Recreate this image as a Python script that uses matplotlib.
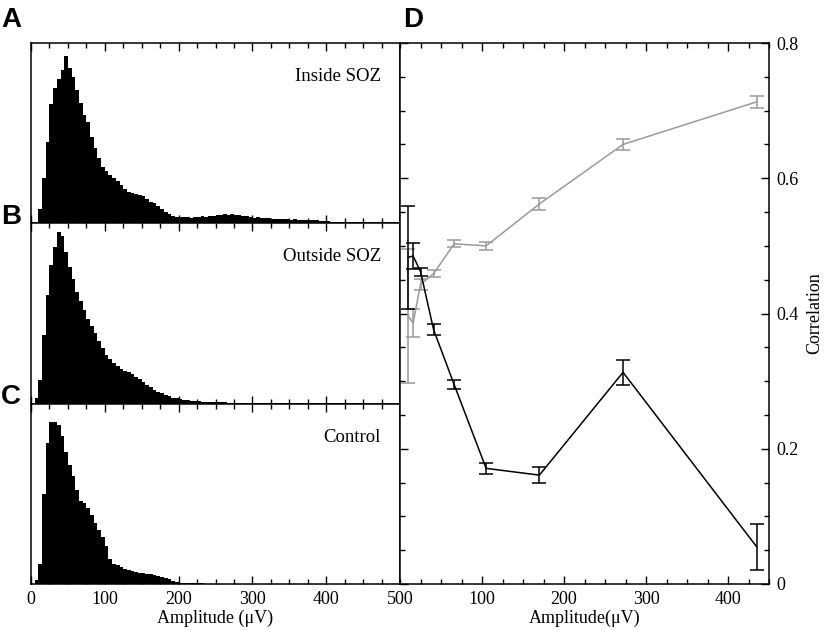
import numpy as np
import matplotlib
matplotlib.use("Agg")
import matplotlib.pyplot as plt
from matplotlib.ticker import MultipleLocator

plt.rcParams['font.family'] = ['Liberation Serif', 'DejaVu Serif']

# histogram heights (fraction of panel height), 5 uV bins from 0 to 500
bin_edges = np.arange(0, 505, 5)

inside_soz = [
    0, 0, 0.08, 0.25, 0.45, 0.66, 0.75, 0.80, 0.85, 0.93,
    0.86, 0.81, 0.74, 0.67, 0.60, 0.56, 0.48, 0.42, 0.36, 0.31,
    0.29, 0.27, 0.25, 0.235, 0.215, 0.19, 0.175, 0.17, 0.16, 0.155,
    0.15, 0.135, 0.12, 0.11, 0.095, 0.08, 0.065, 0.05, 0.04, 0.036,
    0.037, 0.033, 0.036, 0.032, 0.035, 0.037, 0.039, 0.036, 0.042, 0.04,
    0.045, 0.047, 0.05, 0.046, 0.049, 0.044, 0.046, 0.041, 0.04, 0.035,
    0.032, 0.034, 0.029, 0.031, 0.027, 0.026, 0.024, 0.025, 0.022, 0.023,
    0.021, 0.022, 0.02, 0.021, 0.019, 0.02, 0.021, 0.018, 0.015, 0.013,
    0.011, 0.01, 0.009, 0.008, 0.008, 0.007, 0.006, 0.006, 0.005, 0.005,
    0.005, 0.004, 0.004, 0.004, 0.003, 0.004, 0.003, 0.003, 0.002, 0.002,
]

outside_soz = [
    0, 0.03, 0.13, 0.38, 0.60, 0.77, 0.87, 0.95, 0.93, 0.84,
    0.76, 0.69, 0.62, 0.57, 0.52, 0.47, 0.43, 0.39, 0.35, 0.31,
    0.27, 0.245, 0.225, 0.21, 0.195, 0.18, 0.175, 0.165, 0.15, 0.135,
    0.12, 0.105, 0.09, 0.078, 0.067, 0.057, 0.048, 0.04, 0.034, 0.029,
    0.025, 0.022, 0.019, 0.017, 0.015, 0.013, 0.012, 0.011, 0.01, 0.009,
    0.008, 0.007, 0.007, 0.006, 0.006, 0.005, 0.005, 0.005, 0.004, 0.004,
    0.004, 0.003, 0.003, 0.003, 0.003, 0.003, 0.002, 0.002, 0.002, 0.002,
    0.002, 0.002, 0.002, 0.002, 0.001, 0.001, 0.001, 0.001, 0.001, 0.001,
    0.001, 0.001, 0.001, 0.001, 0.001, 0.001, 0.001, 0.001, 0.001, 0.001,
    0.001, 0.001, 0, 0, 0, 0, 0, 0, 0, 0,
]

control = [
    0, 0.02, 0.11, 0.50, 0.78, 0.90, 0.90, 0.88, 0.82, 0.73,
    0.66, 0.60, 0.52, 0.46, 0.45, 0.42, 0.38, 0.34, 0.30, 0.26,
    0.21, 0.14, 0.11, 0.105, 0.095, 0.085, 0.075, 0.072, 0.067, 0.063,
    0.06, 0.057, 0.054, 0.048, 0.044, 0.04, 0.035, 0.025, 0.015, 0.011,
    0.008, 0.006, 0.005, 0.004, 0.004, 0.003, 0.003, 0.002, 0.002, 0.002,
    0.002, 0.001, 0.001, 0.001, 0.001, 0.001, 0.001, 0.001, 0.001, 0.001,
    0, 0, 0, 0, 0, 0, 0, 0, 0, 0,
    0, 0, 0, 0, 0, 0, 0, 0, 0, 0,
    0, 0, 0, 0, 0, 0, 0, 0, 0, 0,
    0, 0, 0, 0, 0, 0, 0, 0, 0, 0,
]

hist_names = ["Inside SOZ", "Outside SOZ", "Control"]
panel_letters = ["A", "B", "C"]
letter_tops = [7, 204, 384]   # pixel rows of the panel letters

# correlation vs amplitude (panel D)
amp = [10, 16, 25, 41, 66, 105, 170, 272, 435]
corr_black = [0.483, 0.485, 0.462, 0.376, 0.295, 0.171, 0.161, 0.313, 0.055]
err_black = [0.076, 0.019, 0.006, 0.008, 0.007, 0.008, 0.012, 0.018, 0.034]
corr_gray = [0.396, 0.386, 0.443, 0.459, 0.503, 0.500, 0.562, 0.650, 0.713]
err_gray = [0.099, 0.021, 0.008, 0.005, 0.005, 0.006, 0.009, 0.008, 0.009]

fig = plt.figure(figsize=(8.25, 6.3), dpi=100)

W, H = 825.0, 630.0
left, right_edge = 31, 400
top, bottom = 43, 584
ph = (bottom - top) / 3.0

def style_ticks(ax):
    ax.tick_params(which='major', direction='in', length=6, width=1)
    ax.tick_params(which='minor', direction='in', length=3.5, width=1)
    for s in ax.spines.values():
        s.set_linewidth(1.1)

hists = [inside_soz, outside_soz, control]
for i, (vals, name) in enumerate(zip(hists, hist_names)):
    y0 = top + i * ph
    ax = fig.add_axes([left / W, 1 - (y0 + ph) / H, (right_edge - left) / W, ph / H])
    ax.stairs(vals, bin_edges, fill=True, color='black', linewidth=0)
    ax.set_xlim(0, 500)
    ax.set_ylim(0, 1)
    ax.xaxis.set_major_locator(MultipleLocator(100))
    ax.xaxis.set_minor_locator(MultipleLocator(25))
    ax.set_yticks([])
    ax.tick_params(axis='x', top=True, bottom=True, which='both')
    style_ticks(ax)
    ax.text(0.948, 0.815, name, transform=ax.transAxes, ha='right', va='center',
            fontsize=13.5)
    if i < 2:
        ax.tick_params(axis='x', labelbottom=False)
    else:
        ax.tick_params(axis='x', labelsize=13, pad=5)
        ax.set_xlabel("Amplitude (\u03bcV)", fontsize=13, labelpad=1)
    fig.text(1 / W, 1 - letter_tops[i] / H, panel_letters[i],
             family='Liberation Sans', fontweight='bold', fontsize=20,
             ha='left', va='top')

axd = fig.add_axes([right_edge / W, 1 - bottom / H, (769 - right_edge) / W, (bottom - top) / H])
axd.errorbar(amp, corr_gray, yerr=err_gray, color='#9a9a9a', lw=1.1,
             elinewidth=1.1, capsize=5, capthick=1.1)
axd.errorbar(amp, corr_black, yerr=err_black, color='black', lw=1.1,
             elinewidth=1.1, capsize=5, capthick=1.1)
axd.set_xlim(0, 450)
axd.set_ylim(0, 0.8)
axd.set_xticks([100, 200, 300, 400])
axd.xaxis.set_minor_locator(MultipleLocator(25))
axd.yaxis.set_major_locator(MultipleLocator(0.2))
axd.yaxis.set_minor_locator(MultipleLocator(0.05))
axd.yaxis.set_major_formatter(plt.FuncFormatter(lambda v, p: "0" if abs(v) < 1e-9 else f"{v:.1f}"))
axd.tick_params(axis='x', top=True, bottom=True, which='both')
axd.tick_params(axis='y', left=True, right=True, labelleft=False, labelright=True, which='both')
style_ticks(axd)
axd.tick_params(axis='both', labelsize=13, pad=5)
axd.set_xlabel("Amplitude(\u03bcV)", fontsize=13, labelpad=1)
axd.yaxis.set_label_position('right')
axd.set_ylabel("Correlation", fontsize=13, labelpad=6)
fig.text(403 / W, 1 - 7 / H, "D", family='Liberation Sans', fontweight='bold',
         fontsize=20, ha='left', va='top')

plt.savefig("out.png", dpi=100)
